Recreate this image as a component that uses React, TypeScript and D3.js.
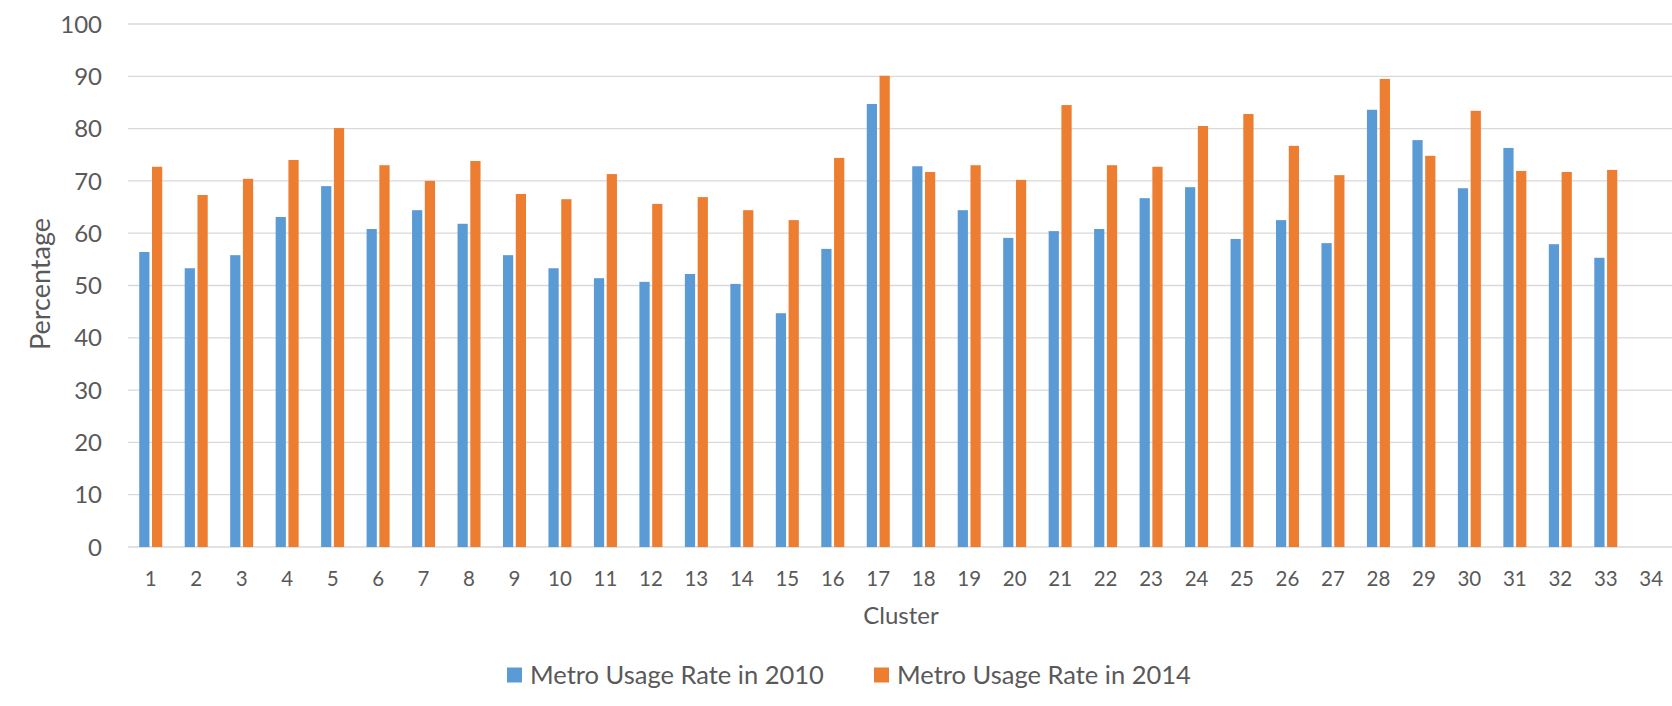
import * as d3 from "d3";

const clusters = d3.range(1, 35).map(String);
const series = ["Metro Usage Rate in 2010", "Metro Usage Rate in 2014"];
const colors = ["#5B9BD5", "#ED7D31"];

const rate2010 = [
  56.4, 53.3, 55.8, 63.1, 69.0, 60.8, 64.4, 61.8, 55.8, 53.3,
  51.4, 50.7, 52.2, 50.3, 44.7, 57.0, 84.7, 72.8, 64.4, 59.1,
  60.4, 60.8, 66.7, 68.8, 58.9, 62.5, 58.1, 83.6, 77.8, 68.6,
  76.3, 57.9, 55.3,
];
const rate2014 = [
  72.7, 67.3, 70.4, 74.0, 80.1, 73.0, 70.0, 73.8, 67.5, 66.5,
  71.3, 65.6, 66.9, 64.4, 62.5, 74.4, 90.1, 71.7, 73.0, 70.2,
  84.5, 73.0, 72.7, 80.5, 82.8, 76.7, 71.1, 89.5, 74.8, 83.4,
  71.9, 71.7, 72.1,
];
const yTicks = d3.range(0, 101, 10);

const W = 1672;
const H = 706;
const FONT = "Lato, 'Open Sans', sans-serif";
const TEXT = "#595959";

export default function App() {
  const x0 = d3.scaleBand<string>().domain(clusters).range([128, 1674]).paddingInner(0.494).paddingOuter(0.247);
  const x1 = d3.scaleBand<number>().domain([0, 1]).range([0, x0.bandwidth()]).paddingInner(0.2);
  const y = d3.scaleLinear().domain([0, 100]).range([547, 24]);

  const data = [rate2010, rate2014];
  const legendX = [507, 874];

  return (
    <svg width={W} height={H} style={{ position: "absolute", left: 0, top: 0, background: "#fff" }} fontFamily={FONT}>
      <rect width={W} height={H} fill="#fff" />
      {yTicks.map((t) => (
        <g key={t}>
          <line x1={128} x2={W} y1={y(t)} y2={y(t)} stroke="#D9D9D9" strokeWidth={1.3} />
          <text x={102} y={y(t)} dy="0.36em" textAnchor="end" fontSize={24} fill={TEXT}>
            {t}
          </text>
        </g>
      ))}
      {data.map((vals, s) =>
        vals.map((v, i) => (
          <rect
            key={s + "-" + i}
            x={(x0(clusters[i]) ?? 0) + (x1(s) ?? 0)}
            y={y(v)}
            width={x1.bandwidth()}
            height={y(0) - y(v)}
            fill={colors[s]}
          />
        ))
      )}
      {clusters.map((c) => (
        <text key={c} x={(x0(c) ?? 0) + x0.bandwidth() / 2} y={579} dy="0.36em" textAnchor="middle" fontSize={20.5} fill={TEXT}>
          {c}
        </text>
      ))}
      <text x={901} y={615} dy="0.36em" textAnchor="middle" fontSize={24} fill={TEXT}>
        Cluster
      </text>
      <text transform="translate(40,284) rotate(-90)" dy="0.36em" textAnchor="middle" fontSize={27} fill={TEXT}>
        Percentage
      </text>
      {series.map((s, i) => (
        <g key={s} transform={`translate(${legendX[i]},675)`}>
          <rect x={0} y={-7.5} width={15} height={15} fill={colors[i]} />
          <text x={23} y={0} dy="0.36em" fontSize={25.5} fill={TEXT}>
            {s}
          </text>
        </g>
      ))}
    </svg>
  );
}
